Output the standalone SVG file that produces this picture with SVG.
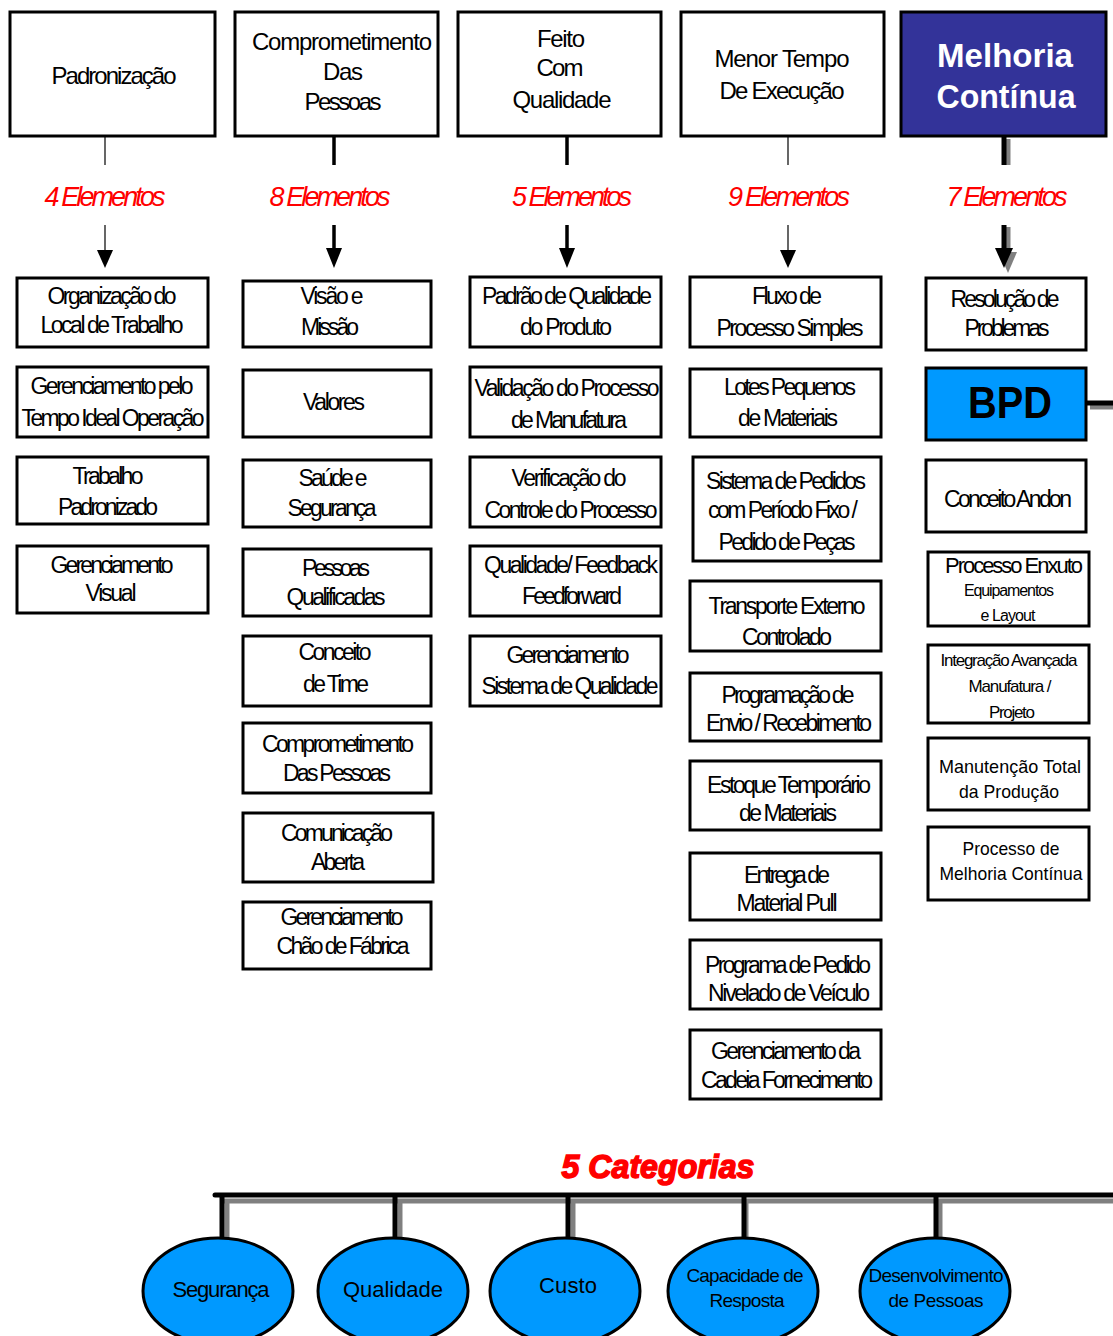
<svg xmlns="http://www.w3.org/2000/svg" width="1113" height="1336" viewBox="0 0 1113 1336">
  <style>
    .box { fill: #ffffff; stroke: #000000; stroke-width: 3; }
    .head { fill: #ffffff; stroke: #000000; stroke-width: 3; }
    .dark { fill: #333399; stroke: #000000; stroke-width: 3; }
    .bpd { fill: #0099ff; stroke: #000000; stroke-width: 3; }
    .oval { fill: #0099ff; stroke: #000000; stroke-width: 3; }
    text { font-family: "Liberation Sans", Arial, sans-serif; text-anchor: middle; fill: #000000; }
    .t { font-size: 23px; }
    .h { font-size: 24px; }
    .w { font-size: 33px; font-weight: bold; fill: #ffffff; }
    .el { font-size: 27px; font-style: italic; fill: #ff0000; }
    .cat { font-size: 33px; font-style: italic; font-weight: bold; fill: #ff0000; stroke: #ff0000; stroke-width: 1.5; }
    .s17 { font-size: 17px; }
    .s19 { font-size: 19px; }
    .s22 { font-size: 22px; }
    .s16 { font-size: 16px; }
    .o { font-size: 22px; }
    .o2 { font-size: 19px; }
    .thin { stroke: #000000; stroke-width: 1.2; fill: none; }
    .mid { stroke: #000000; stroke-width: 3.5; fill: none; }
    .fat { stroke: #000000; stroke-width: 5; fill: none; }
    .shade { stroke: #808080; stroke-width: 5; fill: none; }
    .tip { fill: #000000; }
    .tipshade { fill: #808080; }
  </style>

  <!-- connectors -->
  <g id="connectors">
    <!-- column 1 -->
    <line class="thin" x1="105" y1="137" x2="105" y2="165"/>
    <line class="thin" x1="105" y1="225" x2="105" y2="252"/>
    <polygon class="tip" points="97,250 113,250 105,268"/>
    <!-- column 2 -->
    <line class="mid" x1="334" y1="137" x2="334" y2="165"/>
    <line class="mid" x1="334" y1="225" x2="334" y2="250"/>
    <polygon class="tip" points="326,248 342,248 334,268"/>
    <!-- column 3 -->
    <line class="mid" x1="567" y1="137" x2="567" y2="165"/>
    <line class="mid" x1="567" y1="225" x2="567" y2="250"/>
    <polygon class="tip" points="559,248 575,248 567,268"/>
    <!-- column 4 -->
    <line class="thin" x1="788" y1="137" x2="788" y2="165"/>
    <line class="thin" x1="788" y1="225" x2="788" y2="252"/>
    <polygon class="tip" points="780,250 796,250 788,268"/>
    <!-- column 5 -->
    <line class="shade" x1="1008" y1="139" x2="1008" y2="165"/>
    <line class="fat" x1="1004" y1="137" x2="1004" y2="165"/>
    <line class="shade" x1="1008" y1="227" x2="1008" y2="252"/>
    <polygon class="tipshade" points="999,252 1017,252 1008,273"/>
    <line class="fat" x1="1004" y1="225" x2="1004" y2="250"/>
    <polygon class="tip" points="995,248 1013,248 1004,268"/>
    <!-- BPD link to the right -->
    <line class="shade" x1="1090" y1="407" x2="1113" y2="407"/>
    <line class="fat" x1="1087" y1="403" x2="1113" y2="403" stroke-linecap="round"/>

    <!-- category bus -->
    <line class="shade" x1="222" y1="1201" x2="1113" y2="1201"/>
    <line class="fat" x1="215" y1="1195" x2="1113" y2="1195" stroke-linecap="round"/>
    <line class="shade" x1="227" y1="1201" x2="227" y2="1246"/>
    <line class="fat" x1="222" y1="1195" x2="222" y2="1240"/>
    <line class="shade" x1="400" y1="1201" x2="400" y2="1246"/>
    <line class="fat" x1="395" y1="1195" x2="395" y2="1240"/>
    <line class="shade" x1="573" y1="1201" x2="573" y2="1246"/>
    <line class="fat" x1="568" y1="1195" x2="568" y2="1240"/>
    <line class="shade" x1="746" y1="1201" x2="746" y2="1246"/>
    <line class="fat" x1="744" y1="1195" x2="744" y2="1240"/>
    <line class="shade" x1="940" y1="1201" x2="940" y2="1246"/>
    <line class="fat" x1="936" y1="1195" x2="936" y2="1240"/>
  </g>

  <!-- header row -->
  <g id="h-padronizacao">
    <rect class="head" x="10" y="12" width="205" height="124"/>
    <text class="h" x="114" y="84" textLength="125" lengthAdjust="spacing">Padronização</text>
  </g>
  <g id="h-comprometimento">
    <rect class="head" x="235" y="12" width="203" height="124"/>
    <text class="h" x="342" y="50" textLength="180" lengthAdjust="spacing">Comprometimento</text>
    <text class="h" x="343" y="80" textLength="40" lengthAdjust="spacing">Das</text>
    <text class="h" x="343" y="110" textLength="77" lengthAdjust="spacing">Pessoas</text>
  </g>
  <g id="h-qualidade">
    <rect class="head" x="458" y="12" width="203" height="124"/>
    <text class="h" x="561" y="47" textLength="48" lengthAdjust="spacing">Feito</text>
    <text class="h" x="560" y="76" textLength="47" lengthAdjust="spacing">Com</text>
    <text class="h" x="562" y="108" textLength="99" lengthAdjust="spacing">Qualidade</text>
  </g>
  <g id="h-tempo">
    <rect class="head" x="681" y="12" width="203" height="124"/>
    <text class="h" x="782" y="67" textLength="135" lengthAdjust="spacing">Menor Tempo</text>
    <text class="h" x="782" y="99" textLength="125" lengthAdjust="spacing">De Execução</text>
  </g>
  <g id="h-melhoria">
    <rect class="dark" x="901" y="12" width="205" height="124"/>
    <text class="w" x="1005" y="67" textLength="136" lengthAdjust="spacingAndGlyphs">Melhoria</text>
    <text class="w" x="1006" y="108" textLength="139" lengthAdjust="spacingAndGlyphs">Contínua</text>
  </g>

  <!-- element counts -->
  <g id="counts">
    <text class="el" x="105" y="206" textLength="121" lengthAdjust="spacing">4 Elementos</text>
    <text class="el" x="330" y="206" textLength="121" lengthAdjust="spacing">8 Elementos</text>
    <text class="el" x="572" y="206" textLength="120" lengthAdjust="spacing">5 Elementos</text>
    <text class="el" x="789" y="206" textLength="122" lengthAdjust="spacing">9 Elementos</text>
    <text class="el" x="1007" y="206" textLength="121" lengthAdjust="spacing">7 Elementos</text>
  </g>

  <!-- column 1: Padronização -->
  <g id="c1-organizacao">
    <rect class="box" x="17" y="278" width="191" height="69"/>
    <text class="t" x="112" y="304" textLength="129" lengthAdjust="spacing">Organização do</text>
    <text class="t" x="112" y="333" textLength="143" lengthAdjust="spacing">Local de Trabalho</text>
  </g>
  <g id="c1-tempo-ideal">
    <rect class="box" x="17" y="367" width="191" height="70"/>
    <text class="t" x="112" y="394" textLength="163" lengthAdjust="spacing">Gerenciamento pelo</text>
    <text class="t" x="113" y="426" textLength="183" lengthAdjust="spacing">Tempo Ideal Operação</text>
  </g>
  <g id="c1-trabalho">
    <rect class="box" x="17" y="457" width="191" height="67"/>
    <text class="t" x="108" y="484" textLength="71" lengthAdjust="spacing">Trabalho</text>
    <text class="t" x="108" y="515" textLength="100" lengthAdjust="spacing">Padronizado</text>
  </g>
  <g id="c1-visual">
    <rect class="box" x="17" y="546" width="191" height="67"/>
    <text class="t" x="112" y="573" textLength="123" lengthAdjust="spacing">Gerenciamento</text>
    <text class="t" x="111" y="601" textLength="51" lengthAdjust="spacing">Visual</text>
  </g>

  <!-- column 2: Comprometimento das Pessoas -->
  <g id="c2-visao">
    <rect class="box" x="243" y="281" width="188" height="66"/>
    <text class="t" x="332" y="304" textLength="63" lengthAdjust="spacing">Visão e</text>
    <text class="t" x="330" y="335" textLength="58" lengthAdjust="spacing">Missão</text>
  </g>
  <g id="c2-valores">
    <rect class="box" x="243" y="370" width="188" height="67"/>
    <text class="t" x="334" y="410" textLength="62" lengthAdjust="spacing">Valores</text>
  </g>
  <g id="c2-saude">
    <rect class="box" x="243" y="460" width="188" height="67"/>
    <text class="t" x="333" y="486" textLength="69" lengthAdjust="spacing">Saúde e</text>
    <text class="t" x="332" y="516" textLength="89" lengthAdjust="spacing">Segurança</text>
  </g>
  <g id="c2-pessoas">
    <rect class="box" x="243" y="549" width="188" height="67"/>
    <text class="t" x="336" y="576" textLength="68" lengthAdjust="spacing">Pessoas</text>
    <text class="t" x="336" y="605" textLength="99" lengthAdjust="spacing">Qualificadas</text>
  </g>
  <g id="c2-time">
    <rect class="box" x="243" y="636" width="188" height="70"/>
    <text class="t" x="335" y="660" textLength="73" lengthAdjust="spacing">Conceito</text>
    <text class="t" x="336" y="692" textLength="66" lengthAdjust="spacing">de Time</text>
  </g>
  <g id="c2-comprometimento">
    <rect class="box" x="243" y="723" width="188" height="70"/>
    <text class="t" x="338" y="752" textLength="152" lengthAdjust="spacing">Comprometimento</text>
    <text class="t" x="337" y="781" textLength="108" lengthAdjust="spacing">Das Pessoas</text>
  </g>
  <g id="c2-comunicacao">
    <rect class="box" x="243" y="813" width="190" height="69"/>
    <text class="t" x="337" y="841" textLength="112" lengthAdjust="spacing">Comunicação</text>
    <text class="t" x="338" y="870" textLength="54" lengthAdjust="spacing">Aberta</text>
  </g>
  <g id="c2-chao">
    <rect class="box" x="243" y="902" width="188" height="67"/>
    <text class="t" x="342" y="925" textLength="123" lengthAdjust="spacing">Gerenciamento</text>
    <text class="t" x="343" y="954" textLength="133" lengthAdjust="spacing">Chão de Fábrica</text>
  </g>

  <!-- column 3: Feito com Qualidade -->
  <g id="c3-padrao">
    <rect class="box" x="470" y="277" width="191" height="70"/>
    <text class="t" x="567" y="304" textLength="170" lengthAdjust="spacing">Padrão de Qualidade</text>
    <text class="t" x="566" y="335" textLength="92" lengthAdjust="spacing">do Produto</text>
  </g>
  <g id="c3-validacao">
    <rect class="box" x="470" y="367" width="191" height="70"/>
    <text class="t" x="567" y="396" textLength="185" lengthAdjust="spacing">Validação do Processo</text>
    <text class="t" x="569" y="428" textLength="116" lengthAdjust="spacing">de Manufatura</text>
  </g>
  <g id="c3-verificacao">
    <rect class="box" x="470" y="457" width="191" height="70"/>
    <text class="t" x="569" y="486" textLength="115" lengthAdjust="spacing">Verificação do</text>
    <text class="t" x="571" y="518" textLength="173" lengthAdjust="spacing">Controle do Processo</text>
  </g>
  <g id="c3-feedback">
    <rect class="box" x="470" y="546" width="191" height="70"/>
    <text class="t" x="571" y="573" textLength="174" lengthAdjust="spacing">Qualidade/ Feedback</text>
    <text class="t" x="572" y="604" textLength="100" lengthAdjust="spacing">Feedforward</text>
  </g>
  <g id="c3-sistema">
    <rect class="box" x="470" y="636" width="191" height="70"/>
    <text class="t" x="568" y="663" textLength="123" lengthAdjust="spacing">Gerenciamento</text>
    <text class="t" x="570" y="694" textLength="177" lengthAdjust="spacing">Sistema de Qualidade</text>
  </g>

  <!-- column 4: Menor Tempo de Execução -->
  <g id="c4-fluxo">
    <rect class="box" x="690" y="277" width="191" height="70"/>
    <text class="t" x="787" y="304" textLength="70" lengthAdjust="spacing">Fluxo de</text>
    <text class="t" x="790" y="336" textLength="147" lengthAdjust="spacing">Processo Simples</text>
  </g>
  <g id="c4-lotes">
    <rect class="box" x="690" y="369" width="191" height="68"/>
    <text class="t" x="790" y="395" textLength="132" lengthAdjust="spacing">Lotes Pequenos</text>
    <text class="t" x="788" y="426" textLength="100" lengthAdjust="spacing">de Materiais</text>
  </g>
  <g id="c4-pedidos">
    <rect class="box" x="693" y="457" width="188" height="104"/>
    <text class="t" x="786" y="489" textLength="160" lengthAdjust="spacing">Sistema de Pedidos</text>
    <text class="t" x="783" y="518" textLength="150" lengthAdjust="spacing">com Período Fixo /</text>
    <text class="t" x="787" y="550" textLength="137" lengthAdjust="spacing">Pedido de Peças</text>
  </g>
  <g id="c4-transporte">
    <rect class="box" x="690" y="581" width="191" height="70"/>
    <text class="t" x="787" y="614" textLength="157" lengthAdjust="spacing">Transporte Externo</text>
    <text class="t" x="787" y="645" textLength="90" lengthAdjust="spacing">Controlado</text>
  </g>
  <g id="c4-programacao">
    <rect class="box" x="690" y="673" width="191" height="68"/>
    <text class="t" x="788" y="703" textLength="133" lengthAdjust="spacing">Programação de</text>
    <text class="t" x="789" y="731" textLength="166" lengthAdjust="spacing">Envio / Recebimento</text>
  </g>
  <g id="c4-estoque">
    <rect class="box" x="690" y="761" width="191" height="69"/>
    <text class="t" x="789" y="793" textLength="164" lengthAdjust="spacing">Estoque Temporário</text>
    <text class="t" x="788" y="821" textLength="98" lengthAdjust="spacing">de Materiais</text>
  </g>
  <g id="c4-entrega">
    <rect class="box" x="690" y="853" width="191" height="67"/>
    <text class="t" x="787" y="883" textLength="86" lengthAdjust="spacing">Entrega de</text>
    <text class="t" x="787" y="911" textLength="101" lengthAdjust="spacing">Material Pull</text>
  </g>
  <g id="c4-nivelado">
    <rect class="box" x="690" y="940" width="191" height="69"/>
    <text class="t" x="788" y="973" textLength="166" lengthAdjust="spacing">Programa de Pedido</text>
    <text class="t" x="789" y="1001" textLength="162" lengthAdjust="spacing">Nivelado de Veículo</text>
  </g>
  <g id="c4-cadeia">
    <rect class="box" x="690" y="1030" width="191" height="69"/>
    <text class="t" x="786" y="1059" textLength="150" lengthAdjust="spacing">Gerenciamento da</text>
    <text class="t" x="787" y="1088" textLength="172" lengthAdjust="spacing">Cadeia Fornecimento</text>
  </g>

  <!-- column 5: Melhoria Contínua -->
  <g id="c5-resolucao">
    <rect class="box" x="926" y="278" width="160" height="72"/>
    <text class="t" x="1005" y="307" textLength="109" lengthAdjust="spacing">Resolução de</text>
    <text class="t" x="1007" y="336" textLength="85" lengthAdjust="spacing">Problemas</text>
  </g>
  <g id="c5-bpd">
    <rect class="bpd" x="926" y="368" width="160" height="72"/>
    <text x="1010" y="418" font-size="44" font-weight="bold" textLength="84" lengthAdjust="spacingAndGlyphs">BPD</text>
  </g>
  <g id="c5-andon">
    <rect class="box" x="926" y="460" width="160" height="72"/>
    <text class="t" x="1008" y="507" textLength="128" lengthAdjust="spacing">Conceito Andon</text>
  </g>
  <g id="c5-enxuto">
    <rect class="box" x="928" y="552" width="161" height="74"/>
    <text class="s22" x="1014" y="573" textLength="138" lengthAdjust="spacing">Processo Enxuto</text>
    <text class="s16" x="1009" y="596" textLength="90" lengthAdjust="spacing">Equipamentos</text>
    <text class="s16" x="1008" y="621" textLength="55" lengthAdjust="spacing">e Layout</text>
  </g>
  <g id="c5-integracao">
    <rect class="box" x="928" y="645" width="161" height="78"/>
    <text class="s17" x="1009" y="666" textLength="137" lengthAdjust="spacing">Integração Avançada</text>
    <text class="s17" x="1010" y="692" textLength="83" lengthAdjust="spacing">Manufatura /</text>
    <text class="s17" x="1012" y="718" textLength="46" lengthAdjust="spacing">Projeto</text>
  </g>
  <g id="c5-manutencao">
    <rect class="box" x="928" y="738" width="161" height="72"/>
    <text class="s19" x="1010" y="773" textLength="142" lengthAdjust="spacingAndGlyphs">Manutenção Total</text>
    <text class="s19" x="1009" y="798" textLength="100" lengthAdjust="spacingAndGlyphs">da Produção</text>
  </g>
  <g id="c5-processo">
    <rect class="box" x="928" y="827" width="161" height="73"/>
    <text class="s19" x="1011" y="855" textLength="97" lengthAdjust="spacingAndGlyphs">Processo de</text>
    <text class="s19" x="1011" y="880" textLength="143" lengthAdjust="spacingAndGlyphs">Melhoria Contínua</text>
  </g>

  <!-- categories -->
  <text class="cat" x="658" y="1178" textLength="193" lengthAdjust="spacingAndGlyphs">5 Categorias</text>

  <g id="cat-seguranca">
    <ellipse class="oval" cx="218" cy="1291" rx="75" ry="53"/>
    <text class="o" x="221" y="1297" textLength="97" lengthAdjust="spacing">Segurança</text>
  </g>
  <g id="cat-qualidade">
    <ellipse class="oval" cx="393" cy="1291" rx="75" ry="53"/>
    <text class="o" x="393" y="1297" font-size="24" textLength="100" lengthAdjust="spacing">Qualidade</text>
  </g>
  <g id="cat-custo">
    <ellipse class="oval" cx="565" cy="1291" rx="75" ry="53"/>
    <text class="o" x="568" y="1293" font-size="24" textLength="58" lengthAdjust="spacing">Custo</text>
  </g>
  <g id="cat-capacidade">
    <ellipse class="oval" cx="743" cy="1291" rx="75" ry="53"/>
    <text class="o2" x="745" y="1282" textLength="117" lengthAdjust="spacing">Capacidade de</text>
    <text class="o2" x="747" y="1307" textLength="75" lengthAdjust="spacing">Resposta</text>
  </g>
  <g id="cat-desenvolvimento">
    <ellipse class="oval" cx="935" cy="1291" rx="75" ry="53"/>
    <text class="o2" x="936" y="1282" textLength="135" lengthAdjust="spacing">Desenvolvimento</text>
    <text class="o2" x="936" y="1307" textLength="95" lengthAdjust="spacing">de Pessoas</text>
  </g>
</svg>
